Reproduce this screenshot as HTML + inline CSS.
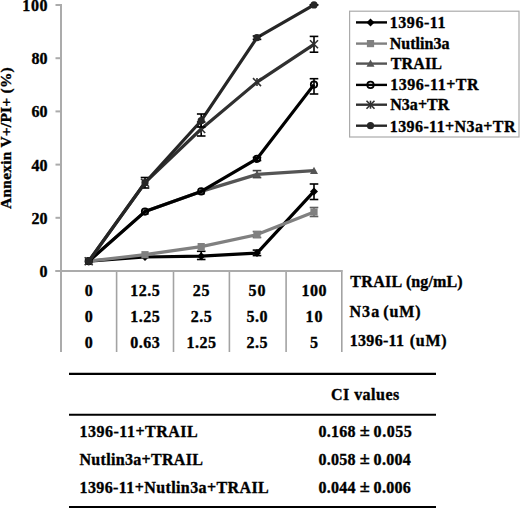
<!DOCTYPE html>
<html><head><meta charset="utf-8"><style>
html,body{margin:0;padding:0;background:#fff;width:520px;height:508px;overflow:hidden}
</style></head><body>
<svg width="520" height="508" viewBox="0 0 520 508" style="display:block">
<rect width="520" height="508" fill="#fff"/>
<g stroke="#ababab" stroke-width="2" fill="none">
<line x1="61" y1="4" x2="61" y2="352"/>
<line x1="55.5" y1="271" x2="342.8" y2="271"/>
<line x1="55.5" y1="271.0" x2="61" y2="271.0"/>
<line x1="55.5" y1="217.8" x2="61" y2="217.8"/>
<line x1="55.5" y1="164.6" x2="61" y2="164.6"/>
<line x1="55.5" y1="111.4" x2="61" y2="111.4"/>
<line x1="55.5" y1="58.2" x2="61" y2="58.2"/>
<line x1="55.5" y1="5.0" x2="61" y2="5.0"/>
</g>
<g stroke="#a3a3a3" stroke-width="1.6">
<line x1="116.6" y1="272" x2="116.6" y2="352"/>
<line x1="173.5" y1="272" x2="173.5" y2="352"/>
<line x1="229.4" y1="272" x2="229.4" y2="352"/>
<line x1="286.1" y1="272" x2="286.1" y2="352"/>
<line x1="341.8" y1="272" x2="341.8" y2="352"/>
</g>
<g font-family="'Liberation Serif', serif" font-weight="bold" font-size="16" fill="#000" stroke="#000" stroke-width="0.35" text-anchor="end">
<text x="47.5" y="277.0">0</text>
<text x="47.5" y="223.8">20</text>
<text x="47.5" y="170.6">40</text>
<text x="47.5" y="117.4">60</text>
<text x="47.5" y="64.2">80</text>
<text x="47.5" y="11.0" textLength="25.2" lengthAdjust="spacing">100</text>
</g>
<text font-family="'Liberation Serif', serif" font-weight="bold" font-size="15.4" fill="#000" stroke="#000" stroke-width="0.35" transform="translate(10.6,138.1) rotate(-90)" text-anchor="middle" textLength="141.6" lengthAdjust="spacing">Annexin V+/PI+ (%)</text>
<polyline points="88.7,261.2 145.0,257.0 201.2,256.2 257.0,253.1 314.0,191.4" fill="none" stroke="#000" stroke-width="3.2" stroke-linejoin="round"/>
<g stroke="#000" stroke-width="1.6"><line x1="201.2" y1="251.3" x2="201.2" y2="259.5"/><line x1="196.9" y1="251.3" x2="205.5" y2="251.3"/><line x1="196.9" y1="259.5" x2="205.5" y2="259.5"/></g>
<g stroke="#000" stroke-width="1.6"><line x1="257.0" y1="250.1" x2="257.0" y2="255.6"/><line x1="252.7" y1="250.1" x2="261.3" y2="250.1"/><line x1="252.7" y1="255.6" x2="261.3" y2="255.6"/></g>
<g stroke="#000" stroke-width="1.6"><line x1="314.0" y1="184.0" x2="314.0" y2="199.5"/><line x1="309.7" y1="184.0" x2="318.3" y2="184.0"/><line x1="309.7" y1="199.5" x2="318.3" y2="199.5"/></g>
<path d="M88.7 257.2L92.7 261.2L88.7 265.2L84.7 261.2Z" fill="#000"/>
<path d="M145.0 253.0L149.0 257.0L145.0 261.0L141.0 257.0Z" fill="#000"/>
<path d="M201.2 252.2L205.2 256.2L201.2 260.2L197.2 256.2Z" fill="#000"/>
<path d="M257.0 249.1L261.0 253.1L257.0 257.1L253.0 253.1Z" fill="#000"/>
<path d="M314.0 187.4L318.0 191.4L314.0 195.4L310.0 191.4Z" fill="#000"/>
<polyline points="88.7,261.2 145.0,254.7 201.2,246.6 257.0,234.6 314.0,212.0" fill="none" stroke="#808080" stroke-width="3.2" stroke-linejoin="round"/>
<g stroke="#606060" stroke-width="1.6"><line x1="257.0" y1="231.5" x2="257.0" y2="237.5"/><line x1="252.7" y1="231.5" x2="261.3" y2="231.5"/><line x1="252.7" y1="237.5" x2="261.3" y2="237.5"/></g>
<g stroke="#606060" stroke-width="1.6"><line x1="314.0" y1="207.5" x2="314.0" y2="216.5"/><line x1="309.7" y1="207.5" x2="318.3" y2="207.5"/><line x1="309.7" y1="216.5" x2="318.3" y2="216.5"/></g>
<rect x="85.1" y="257.6" width="7.2" height="7.2" fill="#808080"/>
<rect x="141.4" y="251.1" width="7.2" height="7.2" fill="#808080"/>
<rect x="197.6" y="243.0" width="7.2" height="7.2" fill="#808080"/>
<rect x="253.4" y="231.0" width="7.2" height="7.2" fill="#808080"/>
<rect x="310.4" y="208.4" width="7.2" height="7.2" fill="#808080"/>
<polyline points="88.7,261.2 145.0,211.6 201.2,191.4 257.0,174.4 314.0,170.7" fill="none" stroke="#555555" stroke-width="3.2" stroke-linejoin="round"/>
<g stroke="#404040" stroke-width="1.6"><line x1="257.0" y1="170.6" x2="257.0" y2="177.6"/><line x1="252.7" y1="170.6" x2="261.3" y2="170.6"/><line x1="252.7" y1="177.6" x2="261.3" y2="177.6"/></g>
<path d="M88.7 257.2L92.7 264.4L84.7 264.4Z" fill="#555555"/>
<path d="M145.0 207.6L149.0 214.8L141.0 214.8Z" fill="#555555"/>
<path d="M201.2 187.4L205.2 194.6L197.2 194.6Z" fill="#555555"/>
<path d="M257.0 170.4L261.0 177.6L253.0 177.6Z" fill="#555555"/>
<path d="M314.0 166.7L318.0 173.9L310.0 173.9Z" fill="#555555"/>
<polyline points="88.7,261.2 145.0,211.6 201.2,191.4 257.0,158.8 314.0,84.6" fill="none" stroke="#000" stroke-width="3.2" stroke-linejoin="round"/>
<g stroke="#000" stroke-width="1.6"><line x1="257.0" y1="157.5" x2="257.0" y2="160.5"/><line x1="252.7" y1="157.5" x2="261.3" y2="157.5"/><line x1="252.7" y1="160.5" x2="261.3" y2="160.5"/></g>
<g stroke="#000" stroke-width="1.6"><line x1="314.0" y1="78.7" x2="314.0" y2="94.0"/><line x1="309.7" y1="78.7" x2="318.3" y2="78.7"/><line x1="309.7" y1="94.0" x2="318.3" y2="94.0"/></g>
<circle cx="88.7" cy="261.2" r="3.2" fill="none" stroke="#000" stroke-width="1.8"/>
<circle cx="145.0" cy="211.6" r="3.2" fill="none" stroke="#000" stroke-width="1.8"/>
<circle cx="201.2" cy="191.4" r="3.2" fill="none" stroke="#000" stroke-width="1.8"/>
<circle cx="257.0" cy="158.8" r="3.2" fill="none" stroke="#000" stroke-width="1.8"/>
<circle cx="314.0" cy="84.6" r="3.2" fill="none" stroke="#000" stroke-width="1.8"/>
<polyline points="88.7,261.2 145.0,182.7 201.2,129.0 257.0,82.1 314.0,44.3" fill="none" stroke="#303030" stroke-width="3.2" stroke-linejoin="round"/>
<g stroke="#000" stroke-width="1.6"><line x1="145.0" y1="177.5" x2="145.0" y2="188.0"/><line x1="140.7" y1="177.5" x2="149.3" y2="177.5"/><line x1="140.7" y1="188.0" x2="149.3" y2="188.0"/></g>
<g stroke="#000" stroke-width="1.6"><line x1="201.2" y1="122" x2="201.2" y2="136"/><line x1="196.9" y1="122" x2="205.5" y2="122"/><line x1="196.9" y1="136" x2="205.5" y2="136"/></g>
<g stroke="#000" stroke-width="1.6"><line x1="314.0" y1="36.4" x2="314.0" y2="52.2"/><line x1="309.7" y1="36.4" x2="318.3" y2="36.4"/><line x1="309.7" y1="52.2" x2="318.3" y2="52.2"/></g>
<g stroke="#303030" stroke-width="1.6"><line x1="84.7" y1="257.2" x2="92.7" y2="265.2"/><line x1="84.7" y1="265.2" x2="92.7" y2="257.2"/><line x1="88.7" y1="257.2" x2="88.7" y2="265.2"/></g>
<g stroke="#303030" stroke-width="1.6"><line x1="141.0" y1="178.7" x2="149.0" y2="186.7"/><line x1="141.0" y1="186.7" x2="149.0" y2="178.7"/><line x1="145.0" y1="178.7" x2="145.0" y2="186.7"/></g>
<g stroke="#303030" stroke-width="1.6"><line x1="197.2" y1="125.0" x2="205.2" y2="133.0"/><line x1="197.2" y1="133.0" x2="205.2" y2="125.0"/><line x1="201.2" y1="125.0" x2="201.2" y2="133.0"/></g>
<g stroke="#303030" stroke-width="1.6"><line x1="253.0" y1="78.1" x2="261.0" y2="86.1"/><line x1="253.0" y1="86.1" x2="261.0" y2="78.1"/><line x1="257.0" y1="78.1" x2="257.0" y2="86.1"/></g>
<g stroke="#303030" stroke-width="1.6"><line x1="310.0" y1="40.3" x2="318.0" y2="48.3"/><line x1="310.0" y1="48.3" x2="318.0" y2="40.3"/><line x1="314.0" y1="40.3" x2="314.0" y2="48.3"/></g>
<polyline points="88.7,261.2 145.0,182.7 201.2,120.7 257.0,37.6 314.0,4.9" fill="none" stroke="#262626" stroke-width="3.2" stroke-linejoin="round"/>
<g stroke="#000" stroke-width="1.6"><line x1="201.2" y1="114" x2="201.2" y2="127"/><line x1="196.9" y1="114" x2="205.5" y2="114"/><line x1="196.9" y1="127" x2="205.5" y2="127"/></g>
<g stroke="#000" stroke-width="1.6"><line x1="257.0" y1="36.0" x2="257.0" y2="39.4"/><line x1="252.7" y1="36.0" x2="261.3" y2="36.0"/><line x1="252.7" y1="39.4" x2="261.3" y2="39.4"/></g>
<g stroke="#000" stroke-width="1.6"><line x1="314.0" y1="4.9" x2="314.0" y2="4.9"/><line x1="309.7" y1="4.9" x2="318.3" y2="4.9"/><line x1="309.7" y1="4.9" x2="318.3" y2="4.9"/></g>
<circle cx="88.7" cy="261.2" r="3.6" fill="#262626"/>
<circle cx="145.0" cy="182.7" r="3.6" fill="#262626"/>
<circle cx="201.2" cy="120.7" r="3.6" fill="#262626"/>
<circle cx="257.0" cy="37.6" r="3.6" fill="#262626"/>
<circle cx="314.0" cy="4.9" r="3.6" fill="#262626"/>
<rect x="349.6" y="11.2" width="169.4" height="125.8" fill="none" stroke="#ababab" stroke-width="1.2"/>
<line x1="356" y1="22.4" x2="387" y2="22.4" stroke="#000" stroke-width="2.4"/>
<path d="M370.5 18.4L374.5 22.4L370.5 26.4L366.5 22.4Z" fill="#000"/>
<line x1="356" y1="43.6" x2="387" y2="43.6" stroke="#808080" stroke-width="2.4"/>
<rect x="366.9" y="40.0" width="7.2" height="7.2" fill="#808080"/>
<line x1="356" y1="63.6" x2="387" y2="63.6" stroke="#555555" stroke-width="2.4"/>
<path d="M370.5 59.6L374.5 66.8L366.5 66.8Z" fill="#555555"/>
<line x1="356" y1="84.9" x2="387" y2="84.9" stroke="#000" stroke-width="2.4"/>
<circle cx="370.5" cy="84.9" r="3.2" fill="none" stroke="#000" stroke-width="1.8"/>
<line x1="356" y1="104.7" x2="387" y2="104.7" stroke="#303030" stroke-width="2.4"/>
<g stroke="#303030" stroke-width="1.6"><line x1="366.5" y1="100.7" x2="374.5" y2="108.7"/><line x1="366.5" y1="108.7" x2="374.5" y2="100.7"/><line x1="370.5" y1="100.7" x2="370.5" y2="108.7"/></g>
<line x1="356" y1="125.7" x2="387" y2="125.7" stroke="#262626" stroke-width="2.4"/>
<circle cx="370.5" cy="125.7" r="3.6" fill="#262626"/>
<g font-family="'Liberation Serif', serif" font-weight="bold" font-size="16" fill="#000" stroke="#000" stroke-width="0.35" text-anchor="middle">
<text x="88.7" y="295.8" textLength="8.40" lengthAdjust="spacing">0</text>
<text x="145.0" y="295.8" textLength="29.40" lengthAdjust="spacing">12.5</text>
<text x="201.2" y="295.8" textLength="16.80" lengthAdjust="spacing">25</text>
<text x="257.0" y="295.8" textLength="16.80" lengthAdjust="spacing">50</text>
<text x="314.0" y="295.8" textLength="25.20" lengthAdjust="spacing">100</text>
<text x="88.7" y="322.0" textLength="8.40" lengthAdjust="spacing">0</text>
<text x="145.0" y="322.0" textLength="29.40" lengthAdjust="spacing">1.25</text>
<text x="201.2" y="322.0" textLength="21.00" lengthAdjust="spacing">2.5</text>
<text x="257.0" y="322.0" textLength="21.00" lengthAdjust="spacing">5.0</text>
<text x="314.0" y="322.0" textLength="16.80" lengthAdjust="spacing">10</text>
<text x="88.7" y="348.0" textLength="8.40" lengthAdjust="spacing">0</text>
<text x="145.0" y="348.0" textLength="29.40" lengthAdjust="spacing">0.63</text>
<text x="201.2" y="348.0" textLength="29.40" lengthAdjust="spacing">1.25</text>
<text x="257.0" y="348.0" textLength="21.00" lengthAdjust="spacing">2.5</text>
<text x="314.0" y="348.0" textLength="8.40" lengthAdjust="spacing">5</text>
</g>
<g font-family="'Liberation Serif', serif" font-weight="bold" font-size="16" fill="#000" stroke="#000" stroke-width="0.35">
<text x="389.80" y="27.70" textLength="55.65" lengthAdjust="spacing">1396-11</text>
<text x="389.80" y="48.70" textLength="59.58" lengthAdjust="spacing">Nutlin3a</text>
<text x="390.80" y="69.00" textLength="51.09" lengthAdjust="spacing">TRAIL</text>
<text x="390.20" y="90.10" textLength="88.40" lengthAdjust="spacing">1396-11+TR</text>
<text x="390.20" y="110.40" textLength="59.11" lengthAdjust="spacing">N3a+TR</text>
<text x="389.80" y="131.60" textLength="125.67" lengthAdjust="spacing">1396-11+N3a+TR</text>
<text x="350.30" y="286.80" textLength="51.89" lengthAdjust="spacing">TRAIL</text>
<text x="405.90" y="286.80" textLength="56.60" lengthAdjust="spacing">(ng/mL)</text>
<text x="349.50" y="316.80" textLength="29.66" lengthAdjust="spacing">N3a</text>
<text x="383.30" y="316.80" textLength="37.36" lengthAdjust="spacing">(uM)</text>
<text x="349.80" y="346.00" textLength="54.15" lengthAdjust="spacing">1396-11</text>
<text x="409.80" y="346.00" textLength="36.86" lengthAdjust="spacing">(uM)</text>
<text x="330.90" y="400.20" textLength="68.35" lengthAdjust="spacing">CI values</text>
<text x="79.50" y="436.60" textLength="118.15" lengthAdjust="spacing">1396-11+TRAIL</text>
<text x="79.50" y="465.00" textLength="123.38" lengthAdjust="spacing">Nutlin3a+TRAIL</text>
<text x="79.50" y="492.80" textLength="189.24" lengthAdjust="spacing">1396-11+Nutlin3a+TRAIL</text>
<text x="318.50" y="436.60" textLength="36.90" lengthAdjust="spacing">0.168</text>
<text x="318.50" y="465.00" textLength="36.90" lengthAdjust="spacing">0.058</text>
<text x="318.50" y="492.80" textLength="36.90" lengthAdjust="spacing">0.044</text>
<text x="359.86" y="435.80" textLength="10.04" lengthAdjust="spacingAndGlyphs">±</text>
<text x="359.86" y="464.20" textLength="10.04" lengthAdjust="spacingAndGlyphs">±</text>
<text x="359.86" y="492.00" textLength="10.04" lengthAdjust="spacingAndGlyphs">±</text>
<text x="373.60" y="436.60" textLength="38.20" lengthAdjust="spacing">0.055</text>
<text x="373.60" y="465.00" textLength="37.20" lengthAdjust="spacing">0.004</text>
<text x="373.60" y="492.80" textLength="37.20" lengthAdjust="spacing">0.006</text>
</g>
<g stroke="#000" stroke-width="2.1">
<line x1="69" y1="373.9" x2="436" y2="373.9"/>
<line x1="69" y1="414.8" x2="436" y2="414.8"/>
<line x1="69" y1="507.0" x2="436" y2="507.0"/>
</g>
</svg>
</body></html>
